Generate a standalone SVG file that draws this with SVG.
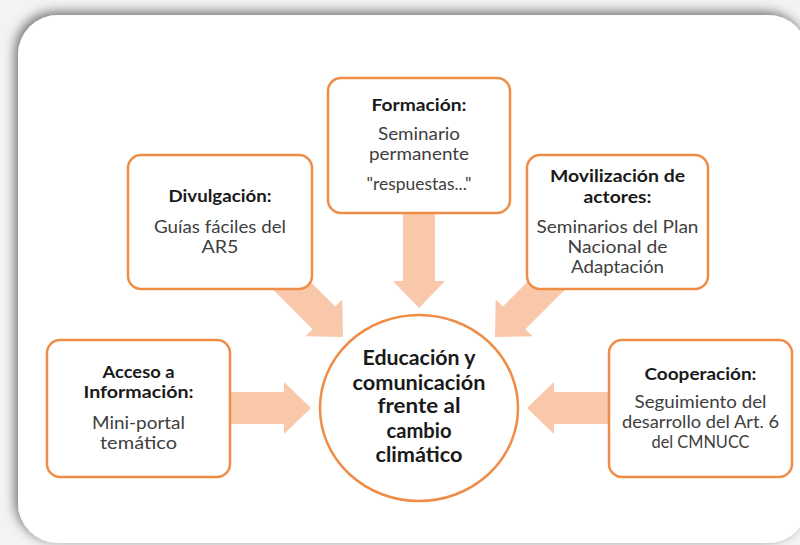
<svg xmlns="http://www.w3.org/2000/svg" width="800" height="545" viewBox="0 0 800 545">
<defs>
<filter id="sh" x="-10%" y="-10%" width="120%" height="120%">
<feGaussianBlur in="SourceAlpha" stdDeviation="6"/>
<feOffset dx="-3" dy="-3" result="b"/>
<feComponentTransfer><feFuncA type="linear" slope="0.55"/></feComponentTransfer>
<feMerge><feMergeNode/><feMergeNode in="SourceGraphic"/></feMerge>
</filter>
<path id="arr" d="M0,0 L-27,-26 L-27,-16 L-100,-16 L-100,16 L-27,16 L-27,26 Z"/>
</defs>
<style>
.box{fill:#ffffff;stroke:#ef8d47;stroke-width:2.5}
.arrow{fill:#f9c8aa}
text{font-family:Lato,"Open Sans",sans-serif;text-anchor:middle}
.t{font-size:17px;font-weight:bold;fill:#1a1a1a}
.b{font-size:16.5px;fill:#404040}
.c{font-size:21px;font-weight:bold;fill:#1a1a1a}
</style>
<rect x="0" y="0" width="800" height="545" fill="#f3f3f3"/>
<rect x="18" y="15" width="790" height="528" rx="40" fill="#ffffff" filter="url(#sh)"/>
<g id="connectors">
<use href="#arr" class="arrow" transform="translate(311,408)"/>
<use href="#arr" class="arrow" transform="translate(527,408) rotate(180)"/>
<use href="#arr" class="arrow" transform="translate(419,308) rotate(90)"/>
<use href="#arr" class="arrow" transform="translate(343,337) rotate(45)"/>
<use href="#arr" class="arrow" transform="translate(495,337) rotate(135)"/>
</g>
<g id="formacion">
<rect class="box" x="328" y="78" width="182" height="135" rx="13"/>
<text class="t" x="419" y="111" textLength="95" lengthAdjust="spacingAndGlyphs">Formación:</text>
<text class="b" x="419" y="140" textLength="82" lengthAdjust="spacingAndGlyphs">Seminario</text>
<text class="b" x="419" y="160" textLength="100" lengthAdjust="spacingAndGlyphs">permanente</text>
<text class="b" x="419" y="190" textLength="105" lengthAdjust="spacingAndGlyphs">"respuestas..."</text>
</g>
<g id="divulgacion">
<rect class="box" x="128" y="155" width="184" height="134" rx="13"/>
<text class="t" x="220" y="202" textLength="103" lengthAdjust="spacingAndGlyphs">Divulgación:</text>
<text class="b" x="220" y="233" textLength="132" lengthAdjust="spacingAndGlyphs">Guías fáciles del</text>
<text class="b" x="220" y="253" textLength="37" lengthAdjust="spacingAndGlyphs">AR5</text>
</g>
<g id="movilizacion">
<rect class="box" x="527" y="155" width="181" height="134" rx="13"/>
<text class="t" x="617.5" y="182" textLength="135" lengthAdjust="spacingAndGlyphs">Movilización de</text>
<text class="t" x="617.5" y="203" textLength="68" lengthAdjust="spacingAndGlyphs">actores:</text>
<text class="b" x="617.5" y="233" textLength="162" lengthAdjust="spacingAndGlyphs">Seminarios del Plan</text>
<text class="b" x="617.5" y="253" textLength="100" lengthAdjust="spacingAndGlyphs">Nacional de</text>
<text class="b" x="617.5" y="273" textLength="93" lengthAdjust="spacingAndGlyphs">Adaptación</text>
</g>
<g id="acceso">
<rect class="box" x="47" y="340" width="183" height="137" rx="13"/>
<text class="t" x="138.5" y="378" textLength="72" lengthAdjust="spacingAndGlyphs">Acceso a</text>
<text class="t" x="138.5" y="398" textLength="110" lengthAdjust="spacingAndGlyphs">Información:</text>
<text class="b" x="138.5" y="429" textLength="93" lengthAdjust="spacingAndGlyphs">Mini-portal</text>
<text class="b" x="138.5" y="449" textLength="77" lengthAdjust="spacingAndGlyphs">temático</text>
</g>
<g id="cooperacion">
<rect class="box" x="609" y="340" width="183" height="137" rx="13"/>
<text class="t" x="700.5" y="380" textLength="112" lengthAdjust="spacingAndGlyphs">Cooperación:</text>
<text class="b" x="700.5" y="408" textLength="132" lengthAdjust="spacingAndGlyphs">Seguimiento del</text>
<text class="b" x="700.5" y="428" textLength="157" lengthAdjust="spacingAndGlyphs">desarrollo del Art. 6</text>
<text class="b" x="700.5" y="448" textLength="98" lengthAdjust="spacingAndGlyphs">del CMNUCC</text>
</g>
<g id="centro">
<ellipse class="box" cx="419" cy="408" rx="99" ry="93"/>
<text class="c" x="419" y="365" textLength="113" lengthAdjust="spacingAndGlyphs">Educación y</text>
<text class="c" x="419" y="390" textLength="133" lengthAdjust="spacingAndGlyphs">comunicación</text>
<text class="c" x="419" y="413" textLength="83" lengthAdjust="spacingAndGlyphs">frente al</text>
<text class="c" x="419" y="438" textLength="65" lengthAdjust="spacingAndGlyphs">cambio</text>
<text class="c" x="419" y="462" textLength="87" lengthAdjust="spacingAndGlyphs">climático</text>
</g>
</svg>
